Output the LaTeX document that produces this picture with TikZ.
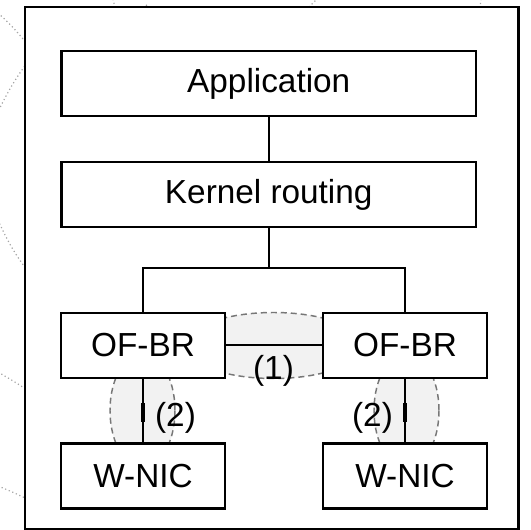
\documentclass[tikz,border=0pt]{standalone}
\usepackage{fontspec}
\setmainfont{Liberation Sans}
\definecolor{zonefill}{HTML}{F2F2F2}
\definecolor{zoneline}{HTML}{777777}
\definecolor{faint}{HTML}{A5A5A5}
\begin{document}
\begin{tikzpicture}[x=0.75pt,y=-0.75pt,
  box/.style={draw=black,fill=white,line width=1.6pt,inner sep=0pt,
    font=\fontsize{25}{30}\selectfont},
  widebox/.style={box,minimum width=310.9pt,minimum height=48.75pt},
  smallbox/.style={box,minimum width=122.5pt,minimum height=48.75pt},
  link/.style={draw=black,line width=1.5pt},
  zone/.style={fill=zonefill,draw=zoneline,line width=1.1pt,dash pattern=on 4.5pt off 3pt},
  tag/.style={inner sep=0pt,font=\fontsize{25}{30}\selectfont},
  coverage/.style={draw=faint,line width=0.9pt,dotted}]
\useasboundingbox (0,0) rectangle (531,530);
\begin{scope}
\clip (0,0) rectangle (531,530);
% faint coverage arcs behind the host frame
\draw[coverage] (-2,13) .. controls (8,22) and (17,31) .. (27,44);
\draw[coverage] (27,63) .. controls (15,79) and (6,95) .. (-2,112);
\draw[coverage] (-2,220) .. controls (6,238) and (14,253) .. (27,270);
\draw[coverage] (-2,372) .. controls (8,378) and (17,383) .. (27,390);
\draw[coverage] (-2,486) .. controls (8,490) and (17,494) .. (27,499);
\draw[coverage] (113,-1) -- (115,8);
\draw[coverage] (146,5) -- (151,8);
\draw[coverage] (318,-2) -- (308,8);
\draw[coverage] (481,-1) -- (480,8);
% host frame
\draw[black,fill=white,line width=2pt] (25,7) rectangle (518.5,529);
\end{scope}

% shaded link zones
\path[zone] (273.5,345.5) ellipse [x radius=89, y radius=33];
\path[zone] (142.5,410.5) ellipse [x radius=32.5, y radius=57];
\path[zone] (406.5,410.5) ellipse [x radius=32.5, y radius=57];

% stack
\node[widebox] (app) at (268.75,83.5) {Application};
\node[widebox] (kern) at (268.75,194.5) {Kernel routing};
\node[smallbox] (brl) at (143,345.2) {OF-BR};
\node[smallbox] (brr) at (405,345.2) {OF-BR};
\node[smallbox] (nicl) at (143,476) {W-NIC};
\node[smallbox] (nicr) at (405,476) {W-NIC};
\coordinate (fork) at (268.75,268);

% connectors
\draw[link] (app) -- (kern);
\draw[link] (kern.south) -- (fork);
\draw[link] (fork) -| (brl.north);
\draw[link] (fork) -| (brr.north);
\draw[link] (brl) -- (brr);
\draw[link] (brl) -- (nicl);
\draw[link] (brr) -- (nicr);
\draw[draw=black,line width=2.4pt] (143,403) -- (143,422);
\draw[draw=black,line width=2.4pt] (405,403) -- (405,422);

% labels
\node[tag] (l1) at (273.5,371) {(1)};
\node[tag] (l2) at (175.5,417.5) {(2)};
\node[tag] (l3) at (372.5,417.5) {(2)};
\end{tikzpicture}
\end{document}
